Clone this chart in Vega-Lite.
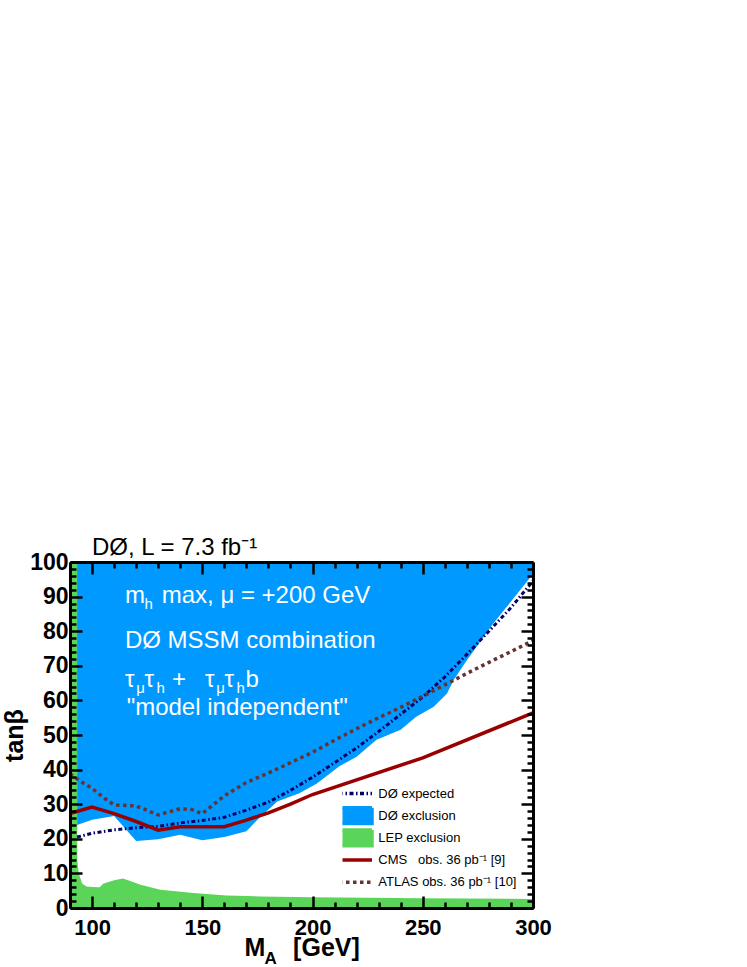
{
  "$schema": "https://vega.github.io/schema/vega-lite/v6.json",
  "width": 463,
  "height": 346,
  "autosize": "none",
  "padding": {"left": 70, "top": 562, "right": 214, "bottom": 59},
  "background": "white",
  "config": {
    "font": "Liberation Sans",
    "view": {"stroke": null},
    "axis": {
      "grid": false,
      "zindex": 1,
      "domainColor": "black",
      "domainWidth": 3,
      "tickColor": "black",
      "tickWidth": 2.5,
      "labelFont": "Liberation Sans",
      "labelFontWeight": "bold",
      "labelFontSize": 23,
      "labelColor": "black",
      "labelFlush": false,
      "labelOverlap": false,
      "labelBound": false,
      "titleFont": "Liberation Sans",
      "titleFontWeight": "bold",
      "titleFontSize": 25,
      "titleColor": "black"
    }
  },
  "title": {
    "text": "DØ, L = 7.3 fb⁻¹",
    "anchor": "start",
    "frame": "group",
    "dx": 22,
    "offset": -28,
    "baseline": "alphabetic",
    "font": "Liberation Sans",
    "fontSize": 24,
    "fontWeight": "normal",
    "color": "black"
  },
  "datasets": {
    "lines": [
      {"k": "excl", "x": 93.2, "y": 24.0},
      {"k": "excl", "x": 100, "y": 25.5},
      {"k": "excl", "x": 110, "y": 26.6},
      {"k": "excl", "x": 120, "y": 19.4},
      {"k": "excl", "x": 130, "y": 19.9},
      {"k": "excl", "x": 140, "y": 21.2},
      {"k": "excl", "x": 150, "y": 19.6},
      {"k": "excl", "x": 160, "y": 20.5},
      {"k": "excl", "x": 170, "y": 22.2},
      {"k": "excl", "x": 175, "y": 25.5},
      {"k": "excl", "x": 184, "y": 30.8},
      {"k": "excl", "x": 194, "y": 33.2},
      {"k": "excl", "x": 202, "y": 36.0},
      {"k": "excl", "x": 212, "y": 40.9},
      {"k": "excl", "x": 220, "y": 43.7},
      {"k": "excl", "x": 229, "y": 48.6},
      {"k": "excl", "x": 240, "y": 51.5},
      {"k": "excl", "x": 247, "y": 55.3},
      {"k": "excl", "x": 255, "y": 58.2},
      {"k": "excl", "x": 261, "y": 62.0},
      {"k": "excl", "x": 264, "y": 65.9},
      {"k": "excl", "x": 270, "y": 71.6},
      {"k": "excl", "x": 282, "y": 82.2},
      {"k": "excl", "x": 300, "y": 96.5},
      {"k": "lep", "x": 90, "y": 100},
      {"k": "lep", "x": 93.2, "y": 100},
      {"k": "lep", "x": 93.3, "y": 14},
      {"k": "lep", "x": 94, "y": 10},
      {"k": "lep", "x": 95.5, "y": 7.1},
      {"k": "lep", "x": 97.5, "y": 6.2},
      {"k": "lep", "x": 100, "y": 6.1},
      {"k": "lep", "x": 103.5, "y": 6.0},
      {"k": "lep", "x": 105, "y": 7.0},
      {"k": "lep", "x": 110, "y": 8.0},
      {"k": "lep", "x": 114, "y": 8.5},
      {"k": "lep", "x": 117, "y": 7.9},
      {"k": "lep", "x": 122, "y": 6.7},
      {"k": "lep", "x": 131, "y": 5.3},
      {"k": "lep", "x": 146, "y": 4.3},
      {"k": "lep", "x": 161, "y": 3.6},
      {"k": "lep", "x": 176, "y": 3.35},
      {"k": "lep", "x": 200, "y": 3.1},
      {"k": "lep", "x": 250, "y": 2.8},
      {"k": "lep", "x": 300, "y": 2.6},
      {"k": "exp", "x": 93.2, "y": 20.5},
      {"k": "exp", "x": 100, "y": 21.6},
      {"k": "exp", "x": 110, "y": 22.6},
      {"k": "exp", "x": 120, "y": 23.2},
      {"k": "exp", "x": 130, "y": 23.6},
      {"k": "exp", "x": 140, "y": 24.6},
      {"k": "exp", "x": 150, "y": 25.3},
      {"k": "exp", "x": 160, "y": 26.2},
      {"k": "exp", "x": 170, "y": 28.3},
      {"k": "exp", "x": 180, "y": 30.6},
      {"k": "exp", "x": 190, "y": 34.0},
      {"k": "exp", "x": 200, "y": 37.8},
      {"k": "exp", "x": 210, "y": 42.0},
      {"k": "exp", "x": 220, "y": 46.3},
      {"k": "exp", "x": 230, "y": 51.0},
      {"k": "exp", "x": 240, "y": 56.0},
      {"k": "exp", "x": 250, "y": 61.0},
      {"k": "exp", "x": 260, "y": 66.8},
      {"k": "exp", "x": 270, "y": 73.3},
      {"k": "exp", "x": 280, "y": 80.0},
      {"k": "exp", "x": 290, "y": 86.8},
      {"k": "exp", "x": 300, "y": 94.5},
      {"k": "cms", "x": 90, "y": 27.3},
      {"k": "cms", "x": 100, "y": 29.2},
      {"k": "cms", "x": 110, "y": 27.3},
      {"k": "cms", "x": 120, "y": 25.0},
      {"k": "cms", "x": 130, "y": 22.5},
      {"k": "cms", "x": 140, "y": 23.5},
      {"k": "cms", "x": 150, "y": 23.5},
      {"k": "cms", "x": 160, "y": 23.5},
      {"k": "cms", "x": 170, "y": 25.4},
      {"k": "cms", "x": 180, "y": 27.5},
      {"k": "cms", "x": 190, "y": 30.0},
      {"k": "cms", "x": 200, "y": 32.8},
      {"k": "cms", "x": 250, "y": 43.4},
      {"k": "cms", "x": 300, "y": 56.4},
      {"k": "atlas", "x": 90, "y": 38.8},
      {"k": "atlas", "x": 95, "y": 36.5},
      {"k": "atlas", "x": 100, "y": 34.6},
      {"k": "atlas", "x": 105, "y": 32.0},
      {"k": "atlas", "x": 110, "y": 29.8},
      {"k": "atlas", "x": 120, "y": 29.5},
      {"k": "atlas", "x": 130, "y": 26.9},
      {"k": "atlas", "x": 140, "y": 28.7},
      {"k": "atlas", "x": 145, "y": 28.5},
      {"k": "atlas", "x": 150, "y": 27.3},
      {"k": "atlas", "x": 160, "y": 32.4},
      {"k": "atlas", "x": 170, "y": 36.3},
      {"k": "atlas", "x": 180, "y": 39.0},
      {"k": "atlas", "x": 190, "y": 42.0},
      {"k": "atlas", "x": 200, "y": 45.0},
      {"k": "atlas", "x": 210, "y": 48.5},
      {"k": "atlas", "x": 220, "y": 51.8},
      {"k": "atlas", "x": 230, "y": 55.0},
      {"k": "atlas", "x": 240, "y": 58.0},
      {"k": "atlas", "x": 250, "y": 61.2},
      {"k": "atlas", "x": 260, "y": 64.5},
      {"k": "atlas", "x": 270, "y": 67.8},
      {"k": "atlas", "x": 280, "y": 71.0},
      {"k": "atlas", "x": 290, "y": 74.1},
      {"k": "atlas", "x": 300, "y": 77.3}
    ],
    "notes": [
      {"t": "m", "x": 114.9, "y": 88.06},
      {"t": "max, μ = +200 GeV", "x": 131.6, "y": 88.06},
      {"t": "DØ MSSM combination", "x": 114.9, "y": 75.1},
      {"t": "τ", "x": 114.9, "y": 64.0},
      {"t": "τ", "x": 123.8, "y": 64.0},
      {"t": "+", "x": 136.3, "y": 64.0},
      {"t": "τ", "x": 151.2, "y": 64.0},
      {"t": "τ", "x": 160.1, "y": 64.0},
      {"t": "b", "x": 169.6, "y": 64.0},
      {"t": "\"model independent\"", "x": 115.7, "y": 55.8}
    ],
    "subs": [
      {"t": "h", "x": 123.8, "y": 86.4},
      {"t": "μ", "x": 120.0, "y": 62.1},
      {"t": "h", "x": 129.2, "y": 62.1},
      {"t": "μ", "x": 156.3, "y": 62.1},
      {"t": "h", "x": 165.5, "y": 62.1}
    ],
    "xsub": [
      {"t": "A", "x": 178.2, "y": 0}
    ]
  },
  "encoding": {
    "x": {"field": "x", "type": "quantitative", "scale": {"domain": [90, 300], "nice": false, "zero": false}, "axis": null},
    "y": {"field": "y", "type": "quantitative", "scale": {"domain": [0, 100], "nice": false, "zero": false}, "axis": null}
  },
  "layer": [
    {
      "data": {"name": "lines"},
      "transform": [{"filter": "datum.k === 'excl'"}],
      "mark": {"type": "area", "interpolate": "linear"},
      "encoding": {
        "x": {
          "field": "x", "type": "quantitative",
          "scale": {"domain": [90, 300], "nice": false, "zero": false},
          "axis": {
            "orient": "bottom",
            "zindex": 2,
            "values": [90, 100, 110, 120, 130, 140, 150, 160, 170, 180, 190, 200, 210, 220, 230, 240, 250, 260, 270, 280, 290, 300],
            "format": "d",
            "labelExpr": "datum.value % 50 === 0 ? datum.label : ''",
            "tickSize": {"condition": {"test": "datum.value % 50 === 0", "value": -12}, "value": -6},
            "labelFontSize": 22,
            "labelPadding": 21,
            "labelBaseline": "top",
            "title": "M\u00a0\u00a0\u00a0\u00a0[GeV]",
            "titleAlign": "left",
            "titleAnchor": "start",
            "titleX": 174,
            "titleY": 47,
            "titleBaseline": "alphabetic",
            "titleAngle": 0
          }
        },
        "y": {
          "field": "y", "type": "quantitative",
          "scale": {"domain": [0, 100], "nice": false, "zero": false},
          "axis": {
            "orient": "left",
            "zindex": 2,
            "values": [0, 2, 4, 6, 8, 10, 12, 14, 16, 18, 20, 22, 24, 26, 28, 30, 32, 34, 36, 38, 40, 42, 44, 46, 48, 50, 52, 54, 56, 58, 60, 62, 64, 66, 68, 70, 72, 74, 76, 78, 80, 82, 84, 86, 88, 90, 92, 94, 96, 98, 100],
            "format": "d",
            "labelExpr": "datum.value % 10 === 0 ? datum.label : ''",
            "tickSize": {"condition": {"test": "datum.value % 10 === 0", "value": -12}, "value": -6},
            "labelPadding": 14,
            "labelBaseline": "middle",
            "title": "tanβ",
            "titleAngle": -90,
            "titleAlign": "center",
            "titleX": -48,
            "titleY": 173,
            "titleBaseline": "alphabetic"
          }
        },
        "y2": {"datum": 100},
        "color": {
          "field": "k", "type": "nominal",
          "scale": {"domain": ["exp", "excl", "lep", "cms", "atlas"], "range": ["#000066", "#0099ff", "#5ad55a", "#990000", "#663333"]},
          "legend": {
            "title": null,
            "orient": "none",
            "legendX": 272.5,
            "legendY": 220.5,
            "padding": 0,
            "gridAlign": "all",
            "clipHeight": 22,
            "symbolSize": 256,
            "symbolStrokeWidth": 3.5,
            "labelFont": "Liberation Sans",
            "labelFontSize": 13,
            "labelColor": "black",
            "labelOffset": 9.8,
            "labelLimit": 400,
            "rowPadding": 0.2,
            "labelExpr": "datum.value === 'exp' ? 'DØ expected' : datum.value === 'excl' ? 'DØ exclusion' : datum.value === 'lep' ? 'LEP exclusion' : datum.value === 'cms' ? 'CMS\u00a0\u00a0\u00a0obs. 36 pb⁻¹ [9]' : 'ATLAS obs. 36 pb⁻¹ [10]'",
            "encode": {
              "symbols": {
                "update": {
                  "shape": {"signal": "datum.value === 'excl' || datum.value === 'lep' ? 'M-1.5,-0.72H1.5V0.72H-1.5Z' : 'M-1.5,0H1.5'"},
                  "size": {"value": 484},
                  "fill": {"signal": "datum.value === 'excl' ? '#0099ff' : datum.value === 'lep' ? '#5ad55a' : 'transparent'"},
                  "stroke": {"signal": "datum.value === 'exp' ? '#000066' : datum.value === 'cms' ? '#990000' : datum.value === 'atlas' ? '#663333' : 'transparent'"},
                  "strokeWidth": {"value": 3.5},
                  "strokeDash": {"signal": "datum.value === 'exp' ? [4, 2.5, 1.5, 2.5] : datum.value === 'atlas' ? [3.5, 3.5] : [1, 0]"},
                  "opacity": {"value": 1}
                }
              }
            }
          }
        }
      }
    },
    {
      "data": {"name": "lines"},
      "transform": [{"filter": "datum.k === 'lep'"}],
      "mark": {"type": "area", "interpolate": "linear"},
      "encoding": {
        "y2": {"datum": 0},
        "color": {"field": "k", "type": "nominal", "scale": {"domain": ["exp", "excl", "lep", "cms", "atlas"], "range": ["#000066", "#0099ff", "#5ad55a", "#990000", "#663333"]}}
      }
    },
    {
      "data": {"name": "lines"},
      "transform": [{"filter": "datum.k === 'exp'"}],
      "mark": {"type": "line", "strokeWidth": 3, "strokeDash": [4, 2.5, 1.5, 2.5]},
      "encoding": {
        "color": {"field": "k", "type": "nominal", "scale": {"domain": ["exp", "excl", "lep", "cms", "atlas"], "range": ["#000066", "#0099ff", "#5ad55a", "#990000", "#663333"]}}
      }
    },
    {
      "data": {"name": "lines"},
      "transform": [{"filter": "datum.k === 'cms'"}],
      "mark": {"type": "line", "strokeWidth": 3.5},
      "encoding": {
        "color": {"field": "k", "type": "nominal", "scale": {"domain": ["exp", "excl", "lep", "cms", "atlas"], "range": ["#000066", "#0099ff", "#5ad55a", "#990000", "#663333"]}}
      }
    },
    {
      "data": {"name": "lines"},
      "transform": [{"filter": "datum.k === 'atlas'"}],
      "mark": {"type": "line", "strokeWidth": 3.5, "strokeDash": [3.5, 3.5]},
      "encoding": {
        "x": {
          "field": "x", "type": "quantitative",
          "scale": {"domain": [90, 300], "nice": false, "zero": false},
          "axis": {
            "orient": "top",
            "zindex": 2,
            "values": [90, 100, 110, 120, 130, 140, 150, 160, 170, 180, 190, 200, 210, 220, 230, 240, 250, 260, 270, 280, 290, 300],
            "labels": false,
            "title": null,
            "tickSize": {"condition": {"test": "datum.value % 50 === 0", "value": -12}, "value": -6}
          }
        },
        "y": {
          "field": "y", "type": "quantitative",
          "scale": {"domain": [0, 100], "nice": false, "zero": false},
          "axis": {
            "orient": "right",
            "zindex": 2,
            "values": [0, 2, 4, 6, 8, 10, 12, 14, 16, 18, 20, 22, 24, 26, 28, 30, 32, 34, 36, 38, 40, 42, 44, 46, 48, 50, 52, 54, 56, 58, 60, 62, 64, 66, 68, 70, 72, 74, 76, 78, 80, 82, 84, 86, 88, 90, 92, 94, 96, 98, 100],
            "labels": false,
            "title": null,
            "tickSize": {"condition": {"test": "datum.value % 10 === 0", "value": -12}, "value": -6}
          }
        },
        "color": {"field": "k", "type": "nominal", "scale": {"domain": ["exp", "excl", "lep", "cms", "atlas"], "range": ["#000066", "#0099ff", "#5ad55a", "#990000", "#663333"]}}
      }
    },
    {
      "data": {"name": "notes"},
      "mark": {"type": "text", "align": "left", "baseline": "alphabetic", "fontSize": 24, "color": "white", "font": "Liberation Sans"},
      "encoding": {"text": {"field": "t", "type": "nominal"}}
    },
    {
      "data": {"name": "subs"},
      "mark": {"type": "text", "align": "left", "baseline": "alphabetic", "fontSize": 15, "color": "white", "font": "Liberation Sans"},
      "encoding": {"text": {"field": "t", "type": "nominal"}}
    },
    {
      "data": {"name": "xsub"},
      "mark": {"type": "text", "align": "left", "baseline": "alphabetic", "fontSize": 17, "fontWeight": "bold", "color": "black", "font": "Liberation Sans", "dy": 56},
      "encoding": {"text": {"field": "t", "type": "nominal"}}
    }
  ],
  "resolve": {"axis": {"x": "independent", "y": "independent"}}
}
